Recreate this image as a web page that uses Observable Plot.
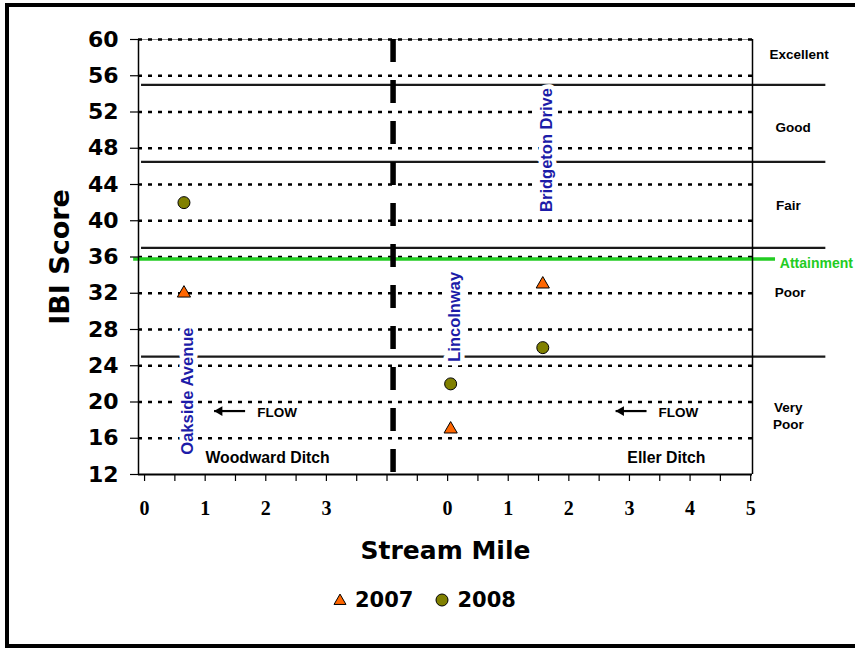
<!DOCTYPE html>
<html>
<head>
<meta charset="utf-8">
<script src="https://cdn.jsdelivr.net/npm/d3@7"></script>
<script src="https://cdn.jsdelivr.net/npm/@observablehq/plot@0.6"></script>
<style>
html, body { margin: 0; padding: 0; background: #fff; width: 855px; height: 648px; overflow: hidden; }
#frame { position: absolute; left: 5px; top: 3px; width: 1000px; height: 645px; box-sizing: border-box; border: 4px solid #000; }
#chart { position: absolute; left: 0; top: 0; }
#legend { position: absolute; left: 333px; top: 588px; height: 24px; display: flex; align-items: center;
  font-family: "DejaVu Sans", sans-serif; font-weight: bold; font-size: 21px; color: #000; }
#legend .item { display: flex; align-items: center; margin-right: 22px; }
#legend svg { margin-right: 8px; }
</style>
</head>
<body>
<div id="frame"></div>
<div id="chart"></div>
<div id="legend"></div>
<script>
// ---- data ----
const sites = ["Oakside Avenue", "Lincolnway", "Bridgeton Drive"];
const siteStream = ["Woodward Ditch", "Eller Ditch", "Eller Ditch"];
const siteMile = [0.65, 0.05, 1.57];
const ibi2007 = [32, 17, 33];
const ibi2008 = [42, 22, 26];
const years = ["2007", "2008"];
const streams = ["Woodward Ditch", "Eller Ditch"];
const streamMileTicks = [[0, 1, 2, 3], [0, 1, 2, 3, 4, 5]];
const yTicks = [12, 16, 20, 24, 28, 32, 36, 40, 44, 48, 52, 56, 60];
const classNames = ["Excellent", "Good", "Fair", "Poor", "Very\nPoor"];
const classBreaks = [55, 46.5, 37, 25];
const attainmentScore = 36;

// ---- layout of the broken stream-mile axis ----
const streamStart = {"Woodward Ditch": 0, "Eller Ditch": 5};
const breakAt = 4.1;
const xDomain = [-0.1, 10.03];
const toU = (stream, mile) => streamStart[stream] + mile;

const pts = sites.map((s, i) => ({site: s, u: toU(siteStream[i], siteMile[i]), v2007: ibi2007[i], v2008: ibi2008[i]}));
const xLabels = streams.flatMap((s, k) => streamMileTicks[k].map(m => ({u: toU(s, m), label: String(m)})));
const minorTicks = d3.range(0, 10.001, 0.5);

// annotation placements (label anchors, in chart units)
const roadLabelY = [21.2, 29.4, 47.8];
const classLabelPos = [[10.8, 58.45], [10.7, 50.4], [10.62, 41.8], [10.65, 32.2], [10.62, 18.6]];
const classTable = classNames.map((n, i) => ({name: n, u: classLabelPos[i][0], v: classLabelPos[i][1]}));
const flows = [{tip: 1.155, tail: 1.667, text: 1.86, v: 19}, {tip: 7.78, tail: 8.29, text: 8.48, v: 19}];
const streamLabelPos = [[2.03, 13.88], [8.61, 13.88]];

const sans = "'Liberation Sans', Arial, sans-serif";
const verd = "'DejaVu Sans', Verdana, sans-serif";

const chart = Plot.plot({
  width: 855, height: 580,
  marginLeft: 138, marginRight: 103, marginTop: 39, marginBottom: 106,
  x: {domain: xDomain, axis: null},
  y: {domain: [12, 60], axis: null},
  style: {background: "transparent", overflow: "visible", color: "#000"},
  marks: [
    // top gray line + dotted grid
    Plot.ruleY([60], {stroke: "#888", strokeWidth: 1}),
    Plot.ruleY(yTicks.filter(d => d > 12), {stroke: "#000", strokeWidth: 2.5, strokeDasharray: "4,6"}),
    // class boundaries
    Plot.ruleY(classBreaks, {x1: -0.05, x2: 11.24, stroke: "#1a1a1a", strokeWidth: 2.2}),
    // attainment
    Plot.ruleY([attainmentScore], {x1: -0.18, x2: 10.41, dy: 2, stroke: "#22cc22", strokeWidth: 3.5}),
    Plot.text(["Attainment"], {x: 10.48, y: attainmentScore, dy: 7, textAnchor: "start", fill: "#22cc22",
      fontFamily: sans, fontWeight: "bold", fontSize: 14}),
    // axis lines
    Plot.ruleX([xDomain[0]], {y1: 12, y2: 60, stroke: "#000", strokeWidth: 1.5}),
    Plot.ruleX([xDomain[1]], {y1: 12, y2: 60, stroke: "#000", strokeWidth: 1.5}),
    Plot.ruleY([12], {stroke: "#000", strokeWidth: 1.8}),
    // stream break
    Plot.ruleX([breakAt], {y1: 60, y2: 11.4, stroke: "#000", strokeWidth: 5.5, strokeDasharray: "23,18"}),
    // axes
    Plot.axisY(yTicks, {anchor: "left", tickSize: 8, tickPadding: 12, fontSize: 22, fontWeight: "bold",
      fontFamily: verd, label: null, strokeWidth: 1.2}),
    Plot.axisX(minorTicks, {anchor: "bottom", tickSize: 7, tickFormat: () => "", label: null, strokeWidth: 1.2}),
    Plot.text(xLabels, {x: "u", text: "label", frameAnchor: "bottom", dy: 34, lineAnchor: "middle",
      fontFamily: "'Liberation Serif', 'Times New Roman', serif", fontWeight: "bold", fontSize: 20}),
    Plot.text(["IBI Score"], {frameAnchor: "left", textAnchor: "middle", rotate: -90, dx: -78, lineAnchor: "middle",
      fontFamily: verd, fontWeight: "bold", fontSize: 27}),
    Plot.text(["Stream Mile"], {frameAnchor: "bottom", textAnchor: "middle", dy: 76, lineAnchor: "middle",
      fontFamily: verd, fontWeight: "bold", fontSize: 25}),
    // road labels
    Plot.text(pts, {x: "u", y: (d, i) => roadLabelY[i], text: "site", dx: 4, rotate: -90, lineAnchor: "middle",
      fill: "#1c1ca8", stroke: "#fff", strokeWidth: 9, paintOrder: "stroke",
      fontFamily: sans, fontWeight: "bold", fontSize: 16.5}),
    // class names
    Plot.text(classTable, {x: "u", y: "v", text: "name", lineAnchor: "middle", lineHeight: 1.25,
      fontFamily: sans, fontWeight: "bold", fontSize: 13.5}),
    // flow arrows
    Plot.ruleY(flows, {x1: "tip", x2: "tail", y: "v", stroke: "#000", strokeWidth: 2.2}),
    Plot.dot(flows, {x: "tip", y: "v", dx: 5, symbol: "triangle", rotate: -90, r: 3.6, fill: "#000", stroke: "none"}),
    Plot.text(flows, {x: "text", y: "v", dy: 2, text: () => "FLOW", textAnchor: "start", lineAnchor: "middle",
      fontFamily: sans, fontWeight: "bold", fontSize: 13.5}),
    // stream names
    Plot.text(streams, {x: (d, i) => streamLabelPos[i][0], y: (d, i) => streamLabelPos[i][1], lineAnchor: "middle",
      fontFamily: sans, fontWeight: "bold", fontSize: 15.8}),
    // data points
    Plot.dot(pts, {x: "u", y: "v2008", r: 6, fill: "#808000", stroke: "#000", strokeWidth: 1}),
    Plot.dot(pts, {x: "u", y: "v2007", symbol: "triangle", r: 4.9, fill: "#ff6600", stroke: "#000", strokeWidth: 1})
  ]
});
document.getElementById("chart").appendChild(chart);

// legend
const legend = d3.select("#legend");
const icons = [
  s => s.append("path").attr("d", d3.symbol(d3.symbolTriangle, 62)()).attr("transform", "translate(7,8)")
        .attr("fill", "#ff6600").attr("stroke", "#000").attr("stroke-width", 1),
  s => s.append("circle").attr("cx", 7).attr("cy", 7).attr("r", 6)
        .attr("fill", "#808000").attr("stroke", "#000").attr("stroke-width", 1)
];
years.forEach((y, i) => {
  const item = legend.append("div").attr("class", "item");
  const svg = item.append("svg").attr("width", 14).attr("height", 14);
  icons[i](svg);
  item.append("span").text(y);
});
</script>
</body>
</html>
